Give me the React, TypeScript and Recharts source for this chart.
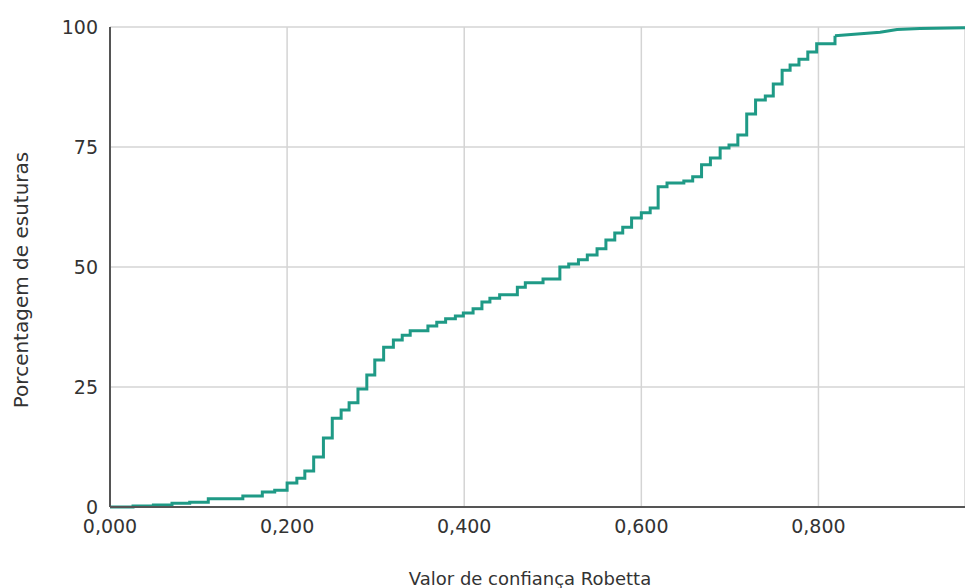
import React from "react";
import { LineChart, Line, XAxis, YAxis, CartesianGrid } from "recharts";

// Empirical cumulative distribution (step part)
const stepX = [
  0, 0.026, 0.049, 0.07, 0.09, 0.111, 0.15, 0.172, 0.186, 0.2, 0.211, 0.22, 0.23,
  0.241, 0.251, 0.261, 0.27, 0.28, 0.29, 0.299, 0.309, 0.32, 0.33, 0.339, 0.359,
  0.369, 0.379, 0.39, 0.399, 0.41, 0.42, 0.429, 0.44, 0.46, 0.469, 0.489, 0.508,
  0.518, 0.529, 0.539, 0.55, 0.56, 0.57, 0.579, 0.589, 0.6, 0.61, 0.619, 0.629,
  0.648, 0.658, 0.668, 0.678, 0.689, 0.699, 0.709, 0.719, 0.729, 0.74, 0.749,
  0.759, 0.768, 0.778, 0.788, 0.798, 0.8187,
];
const stepY = [
  0, 0.2, 0.4, 0.8, 1.0, 1.7, 2.3, 3.1, 3.5, 5.0, 6.0, 7.5, 10.4,
  14.4, 18.5, 20.2, 21.7, 24.6, 27.5, 30.6, 33.3, 34.8, 35.8, 36.7, 37.7,
  38.5, 39.2, 39.8, 40.4, 41.3, 42.7, 43.5, 44.2, 45.8, 46.7, 47.5, 50.0,
  50.6, 51.5, 52.5, 53.8, 55.6, 57.1, 58.3, 60.2, 61.3, 62.3, 66.7, 67.5,
  67.9, 68.8, 71.3, 72.7, 74.8, 75.4, 77.5, 81.9, 84.8, 85.6, 88.1,
  91.0, 92.1, 93.3, 94.8, 96.5, 98.2,
];
// Smooth tail
const tailX = [0.8187, 0.8696, 0.8888, 0.9147, 0.9655];
const tailY = [98.2, 98.9, 99.5, 99.7, 99.85];

const xTicks = [0, 0.2, 0.4, 0.6, 0.8];
const yTicks = [0, 25, 50, 75, 100];

const xTitle = "Valor de confiança Robetta";
const yTitle = "Porcentagem de esuturas";

const stepData = stepX.map((x, i) => ({ x, y: stepY[i] }));
const tailData = tailX.map((x, i) => ({ x, y: tailY[i] }));

const FONT = "'DejaVu Sans', Verdana, sans-serif";
const LINE = "#1f9a86";

const fmtX = (v: number) => v.toFixed(3).replace(".", ",");

export default function App() {
  return (
    <div style={{ position: "absolute", left: 0, top: 0, width: 965, height: 588 }}>
      <LineChart
        width={965}
        height={588}
        margin={{ top: 27, right: 0, left: 0, bottom: 0 }}
      >
        <CartesianGrid stroke="#d4d4d4" strokeWidth={1.5} />
        <XAxis
          type="number"
          dataKey="x"
          domain={[0, 0.9655]}
          ticks={xTicks}
          allowDataOverflow
          tickFormatter={fmtX}
          height={81}
          tickLine={false}
          tickSize={0}
          tickMargin={13}
          axisLine={{ stroke: "#555", strokeWidth: 2 }}
          tick={{ fill: "#333", fontSize: 19, fontFamily: FONT }}
          label={{
            content: () => (
              <text
                x={530}
                y={585}
                textAnchor="middle"
                fill="#333"
                fontSize={18}
                fontFamily={FONT}
              >
                {xTitle}
              </text>
            ),
          }}
        />
        <YAxis
          type="number"
          domain={[0, 100]}
          ticks={yTicks}
          width={110}
          tickLine={false}
          tickSize={0}
          tickMargin={12}
          axisLine={{ stroke: "#555", strokeWidth: 2 }}
          tick={{ fill: "#333", fontSize: 19, fontFamily: FONT }}
          label={{
            content: () => (
              <text
                x={21}
                y={280}
                transform="rotate(-90 21 280)"
                textAnchor="middle"
                dominantBaseline="central"
                fill="#333"
                fontSize={20}
                fontFamily={FONT}
              >
                {yTitle}
              </text>
            ),
          }}
        />
        <Line
          data={stepData}
          dataKey="y"
          type="stepAfter"
          stroke={LINE}
          strokeWidth={3}
          dot={false}
          isAnimationActive={false}
        />
        <Line
          data={tailData}
          dataKey="y"
          type="linear"
          stroke={LINE}
          strokeWidth={3}
          dot={false}
          isAnimationActive={false}
        />
      </LineChart>
    </div>
  );
}
